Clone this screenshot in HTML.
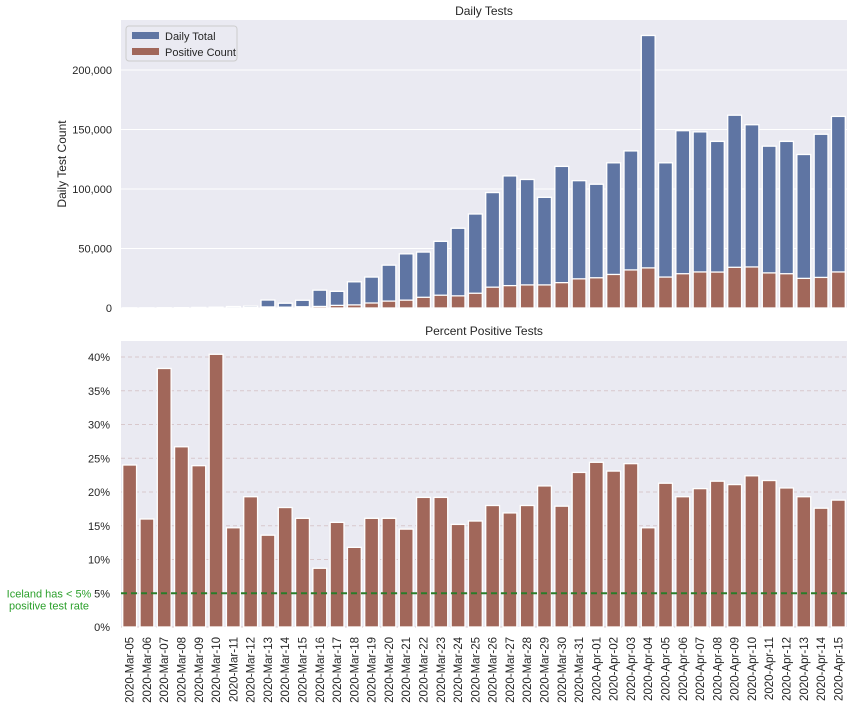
<!DOCTYPE html>
<html><head><meta charset="utf-8"><style>
body{margin:0;background:#fff;font-family:"Liberation Sans",Arial,sans-serif}
svg text{font-family:"Liberation Sans",Arial,sans-serif;fill:#262626}
</style></head><body>
<svg id="c" width="854" height="708"></svg>
<script>
const dates=["Mar-05","Mar-06","Mar-07","Mar-08","Mar-09","Mar-10","Mar-11","Mar-12","Mar-13","Mar-14","Mar-15","Mar-16","Mar-17","Mar-18","Mar-19","Mar-20","Mar-21","Mar-22","Mar-23","Mar-24","Mar-25","Mar-26","Mar-27","Mar-28","Mar-29","Mar-30","Mar-31","Apr-01","Apr-02","Apr-03","Apr-04","Apr-05","Apr-06","Apr-07","Apr-08","Apr-09","Apr-10","Apr-11","Apr-12","Apr-13","Apr-14","Apr-15"];
const totals=[100,150,200,300,500,700,1200,1500,6700,4000,6500,15000,14000,22000,26000,36000,45500,47000,56000,67000,79000,97000,111000,108000,93000,119000,107000,104000,122000,132000,229000,122000,149000,148000,140000,162000,154000,136000,140000,129000,146000,161000];
const positives=[24,24,77,80,120,280,150,290,900,700,1050,1300,2200,2600,4200,5800,6600,9000,10750,10200,12400,17500,18800,19400,19400,21300,24500,25400,28200,32000,33700,26000,28800,30300,30200,34200,34500,29500,28800,24900,25700,30300];
const pct=[24,16,38.3,26.7,23.9,40.4,14.7,19.3,13.6,17.7,16.1,8.7,15.5,11.8,16.1,16.1,14.5,19.2,19.2,15.2,15.7,18,16.9,18,20.9,17.9,22.9,24.4,23.1,24.2,14.7,21.3,19.3,20.5,21.6,21.1,22.4,21.7,20.6,19.3,17.6,18.8];
const topTicks=[0,50000,100000,150000,200000];
const botTicks=[0,5,10,15,20,25,30,35,40];
const threshold=5;

const NS="http://www.w3.org/2000/svg",svg=document.getElementById('c');
function el(t,a,p){const e=document.createElementNS(NS,t);for(const k in a)e.setAttribute(k,a[k]);(p||svg).appendChild(e);return e;}
const L=121,R=847,step=(R-L)/dates.length;
const xc=i=>L+step*(i+0.5);
const T0=20,T1=308,yT=v=>T1-v*(59.5/50000);
const B0=341,B1=627,yB=v=>B1-v*(270/40);

// top axes
let bg=el('rect',{x:L,y:T0,width:R-L,height:T1-T0,fill:'#eaeaf2'});

topTicks.forEach(v=>{
 const g=el('line',{x1:L,x2:R,y1:yT(v),y2:yT(v),stroke:'#fff','stroke-width':1});
 
 const t=el('text',{x:L-9,y:yT(v)+4,'text-anchor':'end','font-size':11});t.textContent=v.toLocaleString('en-US');
 
});
const bw=step*0.8;
totals.forEach((v,i)=>{
 const r=el('rect',{x:xc(i)-bw/2,y:yT(v),width:bw,height:T1-yT(v),fill:'#5f75a3',stroke:'#fff','stroke-width':1.3});
 
});
positives.forEach((v,i)=>{
 const r=el('rect',{x:xc(i)-bw/2,y:yT(v),width:bw,height:T1-yT(v),fill:'#a1675a',stroke:'#fff','stroke-width':1.3});
 
});
let t=el('text',{x:(L+R)/2,y:15,'text-anchor':'middle','font-size':12});t.textContent='Daily Tests';

t=el('text',{x:0,y:0,'text-anchor':'middle','font-size':12,transform:`translate(66,${(T0+T1)/2}) rotate(-90)`});t.textContent='Daily Test Count';

// legend
let lg=el('rect',{x:126,y:26,width:111,height:35,fill:'#eaeaf2',stroke:'#ccc',rx:3});

[['#5f75a3','Daily Total',37],['#a1675a','Positive Count',53]].forEach(d=>{
 const s=el('rect',{x:132,y:d[2]-5,width:27,height:7,fill:d[0]});
 
 const tx=el('text',{x:165,y:d[2]+3,'font-size':11});tx.textContent=d[1];
 
});

// bottom axes
bg=el('rect',{x:L,y:B0,width:R-L,height:B1-B0,fill:'#eaeaf2'});

botTicks.forEach(v=>{
 const g=el('line',{x1:L,x2:R,y1:yB(v),y2:yB(v),stroke:'#d8c8cc','stroke-width':1,'stroke-dasharray':'4,3'});
 
 const tx=el('text',{x:L-11,y:yB(v)+4,'text-anchor':'end','font-size':11});tx.textContent=v+'%';
 
});
pct.forEach((v,i)=>{
 const r=el('rect',{x:xc(i)-bw/2,y:yB(v),width:bw,height:B1-yB(v),fill:'#a1675a',stroke:'#fff','stroke-width':1.3});
 
});
let ln=el('line',{x1:L,x2:R,y1:yB(threshold),y2:yB(threshold),stroke:'#2a7d2a','stroke-width':2,'stroke-dasharray':'6,4'});

t=el('text',{x:49,y:yB(threshold)+4,'text-anchor':'middle','font-size':11,style:'fill:#2ca02c'});t.textContent='Iceland has < 5%';

t=el('text',{x:49,y:yB(threshold)+16,'text-anchor':'middle','font-size':11,style:'fill:#2ca02c'});t.textContent='positive test rate';

t=el('text',{x:(L+R)/2,y:335,'text-anchor':'middle','font-size':12});t.textContent='Percent Positive Tests';

dates.forEach((d,i)=>{
 const tx=el('text',{x:0,y:0,'text-anchor':'end','font-size':11.5,transform:`translate(${xc(i)+4},${B1+10}) rotate(-90)`});
 tx.textContent='2020-'+d;
 
});
</script>
</body></html>
